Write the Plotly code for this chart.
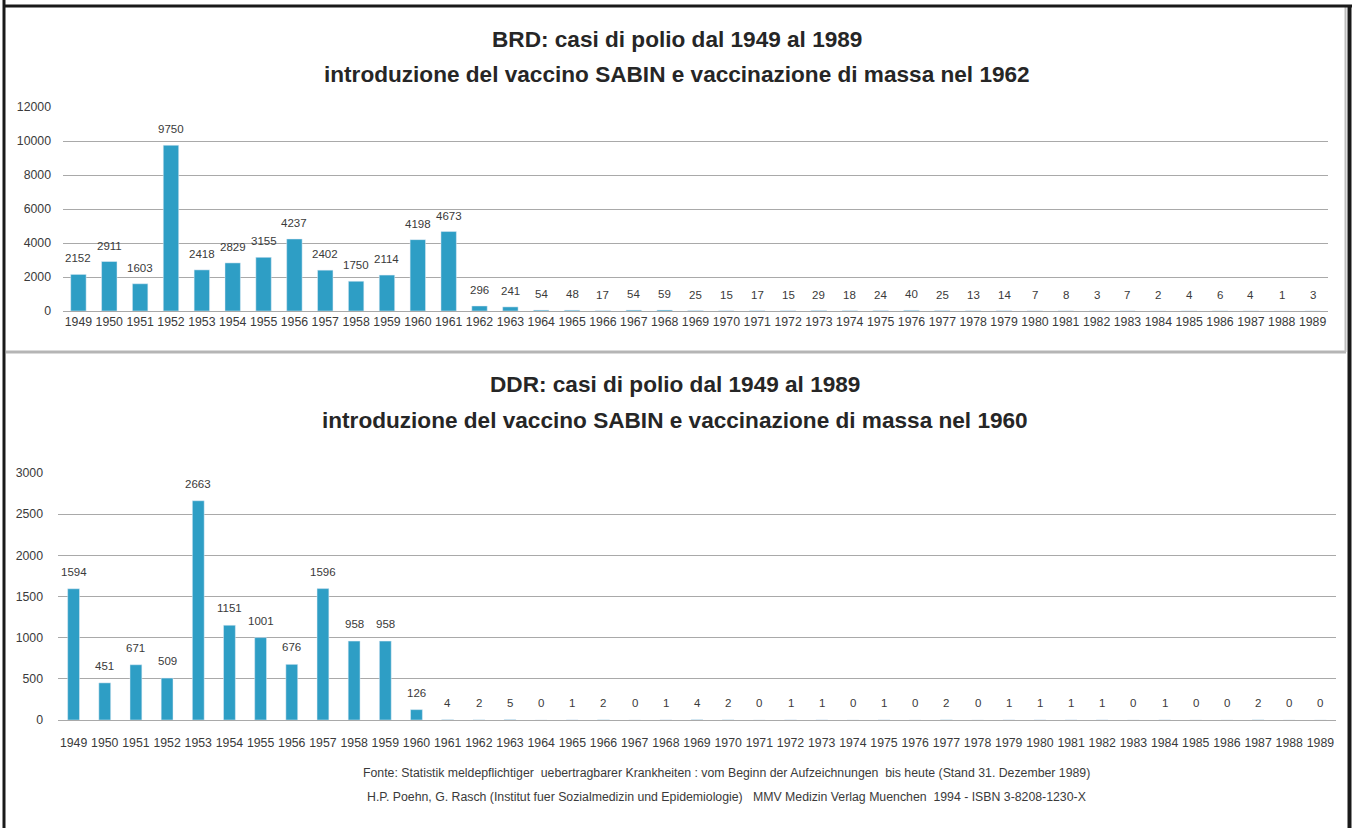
import plotly.graph_objects as go

years = ["1949", "1950", "1951", "1952", "1953", "1954", "1955", "1956", "1957", "1958",
         "1959", "1960", "1961", "1962", "1963", "1964", "1965", "1966", "1967", "1968",
         "1969", "1970", "1971", "1972", "1973", "1974", "1975", "1976", "1977", "1978",
         "1979", "1980", "1981", "1982", "1983", "1984", "1985", "1986", "1987", "1988",
         "1989"]

brd_cases = [2152, 2911, 1603, 9750, 2418, 2829, 3155, 4237, 2402, 1750,
             2114, 4198, 4673, 296, 241, 54, 48, 17, 54, 59,
             25, 15, 17, 15, 29, 18, 24, 40, 25, 13,
             14, 7, 8, 3, 7, 2, 4, 6, 4, 1,
             3]

ddr_cases = [1594, 451, 671, 509, 2663, 1151, 1001, 676, 1596, 958,
             958, 126, 4, 2, 5, 0, 1, 2, 0, 1,
             4, 2, 0, 1, 1, 0, 1, 0, 2, 0,
             1, 1, 1, 1, 0, 1, 0, 0, 2, 0,
             0]

brd_ticks = [0, 2000, 4000, 6000, 8000, 10000, 12000]
ddr_ticks = [0, 500, 1000, 1500, 2000, 2500, 3000]

brd_title = ["BRD: casi di polio dal 1949 al 1989",
             "introduzione del vaccino SABIN e vaccinazione di massa nel 1962"]
ddr_title = ["DDR: casi di polio dal 1949 al 1989",
             "introduzione del vaccino SABIN e vaccinazione di massa nel 1960"]
source_lines = [
    "Fonte: Statistik meldepflichtiger  uebertragbarer Krankheiten : vom Beginn der Aufzeichnungen  bis heute (Stand 31. Dezember 1989)",
    "H.P. Poehn, G. Rasch (Institut fuer Sozialmedizin und Epidemiologie)   MMV Medizin Verlag Muenchen  1994 - ISBN 3-8208-1230-X",
]

W, H = 1354, 828
BAR = "#2e9ec5"
GRID = "#a9a9a9"
TXT = "#3a3a3a"
TFONT = "Liberation Sans"


def px(x):
    return x / W


def py(y):
    return 1 - y / H


fig = go.Figure()
fig.add_trace(go.Bar(x=years, y=brd_cases, marker_color=BAR, width=0.5,
                     xaxis="x", yaxis="y", showlegend=False))
fig.add_trace(go.Bar(x=years, y=ddr_cases, marker_color=BAR, width=0.38,
                     xaxis="x2", yaxis="y2", showlegend=False))

annotations = []
# category axes: annotation x is the category index
for i, v in enumerate(brd_cases):
    annotations.append(dict(x=i, y=v, xref="x", yref="y", text=str(v), showarrow=False,
                            yanchor="middle", yshift=16,
                            font=dict(family=TFONT, size=11.5, color=TXT)))
for i, v in enumerate(ddr_cases):
    annotations.append(dict(x=i, y=v, xref="x2", yref="y2", text=str(v), showarrow=False,
                            yanchor="middle", yshift=17,
                            font=dict(family=TFONT, size=11.5, color=TXT)))

title_font = dict(family=TFONT, size=22.6, color="#262626")
for txt, yy in zip(brd_title, [40, 75]):
    annotations.append(dict(x=px(677), y=py(yy), xref="paper", yref="paper", text="<b>%s</b>" % txt,
                            showarrow=False, xanchor="center", yanchor="middle", font=title_font))
for txt, yy in zip(ddr_title, [384, 420]):
    annotations.append(dict(x=px(675), y=py(yy), xref="paper", yref="paper", text="<b>%s</b>" % txt,
                            showarrow=False, xanchor="center", yanchor="middle", font=title_font))
for txt, yy in zip(source_lines, [773, 797]):
    annotations.append(dict(x=px(726), y=py(yy), xref="paper", yref="paper", text=txt,
                            showarrow=False, xanchor="center", yanchor="middle",
                            font=dict(family=TFONT, size=12.3, color=TXT)))

shapes = [
    dict(type="line", xref="paper", yref="paper", x0=px(6), x1=px(1346), y0=py(352), y1=py(352),
         line=dict(color="#b5b5b5", width=3)),
    dict(type="line", xref="paper", yref="paper", x0=px(1345.5), x1=px(1345.5), y0=py(7), y1=py(352),
         line=dict(color="#bdbdbd", width=2)),
    dict(type="line", xref="paper", yref="paper", x0=px(4), x1=px(4), y0=py(0), y1=py(828),
         line=dict(color="#1a1a1a", width=3)),
    dict(type="line", xref="paper", yref="paper", x0=px(3), x1=px(1352), y0=py(6), y1=py(6),
         line=dict(color="#1a1a1a", width=3)),
    dict(type="line", xref="paper", yref="paper", x0=px(1349.5), x1=px(1349.5), y0=py(5), y1=py(828),
         line=dict(color="#1a1a1a", width=4)),
]

xcommon = dict(type="category", showgrid=False, showline=False, zeroline=False, ticks="",
               range=[-0.5, len(years) - 0.5], autorange=False,
               tickfont=dict(family=TFONT, size=12.3, color=TXT), tickangle=0, fixedrange=True)
ycommon = dict(showgrid=True, gridcolor=GRID, gridwidth=1.3, zeroline=True, zerolinecolor=GRID,
               zerolinewidth=1.3, showline=False, ticks="", tickformat="d", autorange=False,
               tickfont=dict(family=TFONT, size=12.3, color=TXT), fixedrange=True)

fig.update_layout(
    width=W, height=H,
    margin=dict(l=0, r=0, t=0, b=0, autoexpand=False),
    paper_bgcolor="white", plot_bgcolor="white",
    bargap=0.5,
    xaxis=dict(xcommon, domain=[px(63), px(1328)], anchor="y", ticklabelstandoff=2),
    yaxis=dict(ycommon, domain=[py(311), py(107)], anchor="x", range=[0, 12000],
               tickvals=brd_ticks, ticklabelstandoff=11),
    xaxis2=dict(xcommon, domain=[px(58), px(1336)], anchor="y2", ticklabelstandoff=14),
    yaxis2=dict(ycommon, domain=[py(720), py(473)], anchor="x2", range=[0, 3000],
                tickvals=ddr_ticks, ticklabelstandoff=14),
    annotations=annotations,
    shapes=shapes,
)

fig.write_html("out.html", config={"displayModeBar": False},
               post_script="document.body.style.margin='0';")
